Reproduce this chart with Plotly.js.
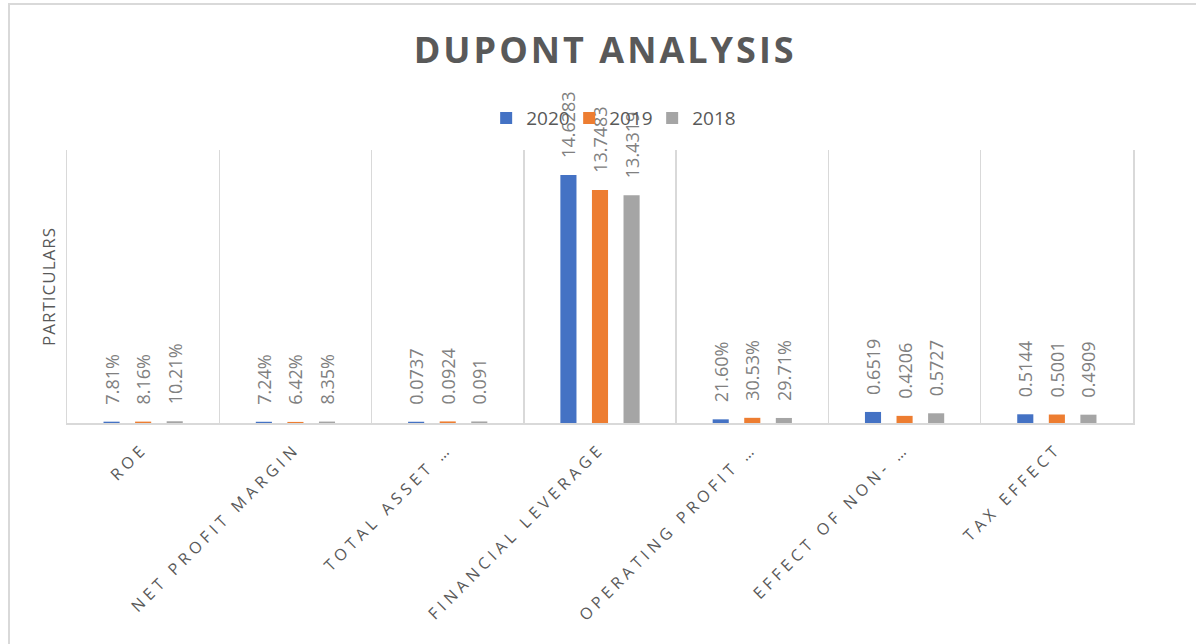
<!DOCTYPE html>
<html><head><meta charset="utf-8">
<script src="https://cdn.plot.ly/plotly-3.0.1.min.js"></script>
<style>
html,body{margin:0;padding:0;background:#fff;}
#wrap{position:relative;width:1196px;height:644px;overflow:hidden;}
#chart{width:1196px;height:644px;}
#frame{position:absolute;left:8px;top:3px;width:1300px;height:800px;border-left:2px solid #d9d9d9;border-top:2px solid #d9d9d9;pointer-events:none;}
.xtick text{letter-spacing:4.5px;}
.gtitle{letter-spacing:3px;}
.ytitle{letter-spacing:1px;}
</style></head>
<body><div id="wrap"><div id="chart"></div><div id="frame"></div></div>
<script>
const categories = ["ROE","NET PROFIT MARGIN","TOTAL ASSET …","FINANCIAL LEVERAGE","OPERATING PROFIT …","EFFECT OF NON- …","TAX EFFECT"];
const isPercent = [true,true,false,false,true,false,false];
const years = ["2020","2019","2018"];
const values2020 = [0.0781,0.0724,0.0737,14.6283,0.2160,0.6519,0.5144];
const values2019 = [0.0816,0.0642,0.0924,13.7483,0.3053,0.4206,0.5001];
const values2018 = [0.1021,0.0835,0.0910,13.4319,0.2971,0.5727,0.4909];
const colors = ["#4472C4","#ED7D31","#A5A5A5"];

const series = [values2020, values2019, values2018];
const pad = "\u00a0\u00a0\u00a0";
function fmt(v, i){ return pad + (isPercent[i] ? (v*100).toFixed(2)+"%" : String(v)); }

const traces = series.map((vals, k) => ({
  type: "bar",
  name: years[k],
  x: categories,
  y: vals,
  text: vals.map(fmt),
  textposition: "outside",
  textangle: -90,
  constraintext: "none",
  cliponaxis: false,
  textfont: {family: "Open Sans", size: 18, color: "#808080"},
  marker: {color: colors[k]},
  hoverinfo: "skip"
}));

const layout = {
  width: 1196, height: 644,
  paper_bgcolor: "#fff", plot_bgcolor: "#fff",
  margin: {l: 67, r: 63, t: 150, b: 221},
  font: {family: "Open Sans", color: "#595959"},
  title: {
    text: "<b>DUPONT ANALYSIS</b>",
    font: {family: "Open Sans", size: 36, color: "#595959"},
    x: 0.506, xref: "container", xanchor: "center",
    y: 0.922, yref: "container", yanchor: "middle"
  },
  barmode: "group",
  bargap: 0.378,
  bargroupgap: 0.49,
  showlegend: true,
  legend: {
    orientation: "h", x: 0.51, xanchor: "center", y: 1.117, yanchor: "middle",
    bgcolor: "rgba(0,0,0,0)",
    entrywidth: 38, entrywidthmode: "pixels",
    font: {family: "Open Sans", size: 19, color: "#595959"},
    itemclick: false, itemdoubleclick: false
  },
  xaxis: {
    type: "category",
    tickson: "boundaries",
    showgrid: true, gridcolor: "#d9d9d9", gridwidth: 1.5,
    showline: true, linecolor: "#d9d9d9", linewidth: 2,
    ticks: "", tickangle: -45,
    ticklabelstandoff: 8,
    tickfont: {family: "Open Sans", size: 16, color: "#595959"},
    fixedrange: true
  },
  yaxis: {
    range: [0, 16.1],
    showticklabels: false, showgrid: false, zeroline: false,
    showline: true, linecolor: "#d9d9d9", linewidth: 1.5, mirror: true,
    ticks: "",
    title: {text: "PARTICULARS", font: {family: "Open Sans", size: 17, color: "#595959"}, standoff: 5},
    fixedrange: true
  }
};

Plotly.newPlot("chart", traces, layout, {displayModeBar: false, staticPlot: true});
</script>
</body></html>
